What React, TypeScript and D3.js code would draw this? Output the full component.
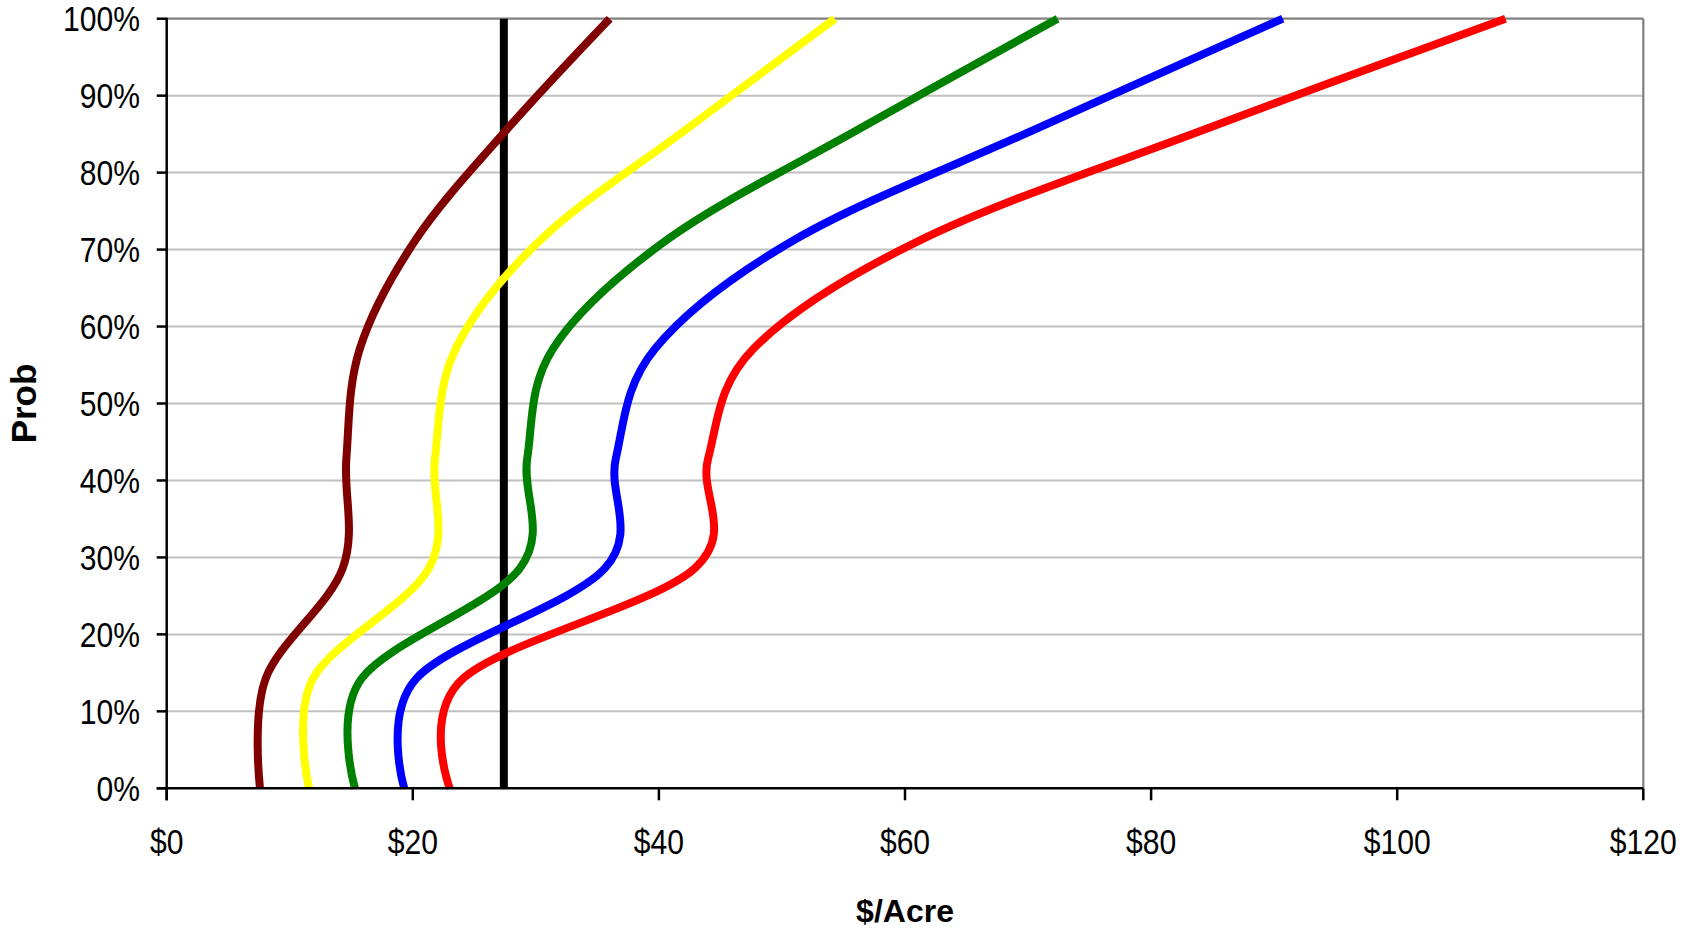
import React from "react";
import * as d3 from "d3";

// Cumulative probability levels shared by every series
const probLevels = [0, 0.1429, 0.2857, 0.4286, 0.5714, 0.7143, 0.8571, 1];

// $/Acre values at each probability level
const seriesDarkRed = [7.58, 8.05, 14.3, 14.6, 15.7, 20.3, 27.7, 36.0];
const seriesYellow = [11.56, 11.9, 21.3, 21.8, 23.5, 30.5, 42.3, 54.3];
const seriesGreen = [15.3, 15.85, 28.7, 29.3, 31.4, 40.8, 56.3, 72.4];
const seriesBlue = [19.3, 20.3, 35.6, 36.5, 39.7, 51.2, 70.7, 90.7];
const seriesRed = [23.0, 24.1, 42.9, 44.0, 47.7, 61.5, 84.5, 108.8];

// Reference (break-even) cost line
const referenceValue = [27.4, 27.4, 27.4, 27.4, 27.4, 27.4, 27.4, 27.4];

const xTicks = [0, 20, 40, 60, 80, 100, 120];
const yTicks = [0, 0.1, 0.2, 0.3, 0.4, 0.5, 0.6, 0.7, 0.8, 0.9, 1];

const W = 1698;
const H = 934;
const left = 166.7;
const right = 1643.3;
const top = 18.7;
const bottom = 788.3;

const FONT = "'Liberation Sans', Arial, Helvetica, sans-serif";

export default function App() {
  const x = d3.scaleLinear().domain([0, 120]).range([left, right]);
  const y = d3.scaleLinear().domain([0, 1]).range([bottom, top]);

  const line = d3
    .line<{ v: number; p: number }>()
    .x((d) => x(d.v))
    .y((d) => y(d.p))
    .curve(d3.curveCardinal.tension(0));

  const toPts = (vals: number[]) => vals.map((v, i) => ({ v, p: probLevels[i] }));

  const series = [
    { vals: seriesDarkRed, color: "#800000" },
    { vals: seriesYellow, color: "#FFFF00" },
    { vals: seriesGreen, color: "#008000" },
    { vals: seriesBlue, color: "#0000FF" },
    { vals: seriesRed, color: "#FF0000" },
  ];

  const refLine = d3
    .line<{ v: number; p: number }>()
    .x((d) => x(d.v))
    .y((d) => y(d.p));

  return (
    <svg
      width={W}
      height={H}
      style={{ position: "fixed", left: 0, top: 0, background: "#fff" }}
    >
      <rect x={0} y={0} width={W} height={H} fill="#fff" />

      {/* horizontal gridlines */}
      {yTicks.slice(1, -1).map((t) => (
        <line
          key={"g" + t}
          x1={left}
          x2={right}
          y1={y(t)}
          y2={y(t)}
          stroke="#c0c0c0"
          strokeWidth={2}
        />
      ))}
      {/* plot frame: top and right */}
      <line x1={left} x2={right} y1={y(1)} y2={y(1)} stroke="#808080" strokeWidth={2.2} />
      <line x1={right} x2={right} y1={top} y2={bottom} stroke="#808080" strokeWidth={2.2} />

      {/* reference line */}
      <path
        d={refLine(toPts(referenceValue)) || ""}
        fill="none"
        stroke="#000"
        strokeWidth={8}
      />

      {/* distribution curves */}
      {series.map((s, i) => (
        <path
          key={i}
          d={line(toPts(s.vals)) || ""}
          fill="none"
          stroke={s.color}
          strokeWidth={8}
          strokeLinejoin="round"
        />
      ))}

      {/* y axis */}
      <line x1={left} x2={left} y1={top - 1} y2={bottom + 12} stroke="#000" strokeWidth={2.5} />
      {yTicks.map((t) => (
        <g key={"yt" + t}>
          <line x1={left - 10} x2={left} y1={y(t)} y2={y(t)} stroke="#000" strokeWidth={2.5} />
          <text
            transform={`translate(${140},${y(t) + 12.5}) scale(0.86,1)`}
            textAnchor="end"
            fontFamily={FONT}
            fontSize={35}
            fill="#000"
          >
            {d3.format(".0%")(t)}
          </text>
        </g>
      ))}

      {/* x axis */}
      <line x1={left - 10} x2={right} y1={bottom} y2={bottom} stroke="#000" strokeWidth={2.5} />
      {xTicks.map((t) => (
        <g key={"xt" + t}>
          <line x1={x(t)} x2={x(t)} y1={bottom} y2={bottom + 12} stroke="#000" strokeWidth={2.5} />
          <text
            transform={`translate(${x(t)},${854}) scale(0.86,1)`}
            textAnchor="middle"
            fontFamily={FONT}
            fontSize={35}
            fill="#000"
          >
            {"$" + t}
          </text>
        </g>
      ))}

      {/* axis titles */}
      <text
        x={(left + right) / 2}
        y={922}
        textAnchor="middle"
        fontFamily={FONT}
        fontSize={32}
        fontWeight="bold"
        fill="#000"
      >
        $/Acre
      </text>
      <text
        transform={`translate(36,${(top + bottom) / 2}) rotate(-90)`}
        textAnchor="middle"
        fontFamily={FONT}
        fontSize={35}
        fontWeight="bold"
        fill="#000"
      >
        Prob
      </text>
    </svg>
  );
}
